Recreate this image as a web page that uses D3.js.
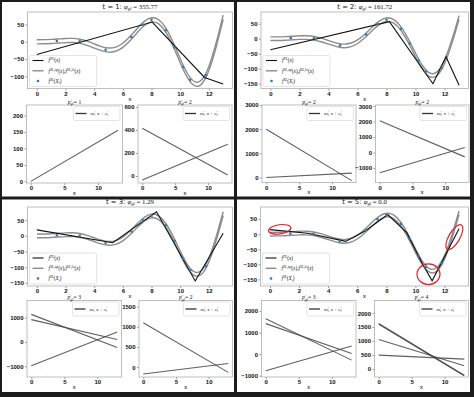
<!DOCTYPE html>
<html>
<head>
<meta charset="utf-8">
<script src="https://cdn.jsdelivr.net/npm/d3@7"></script>
<style>
  body { margin: 0; background: #fff; }
  svg { display: block; }
</style>
</head>
<body>
<div id="chart"></div>
<script>
// ── Data ────────────────────────────────────────────────────────────────────
var tValues = [1, 2, 3, 5];
var phiGl   = ['355.77', '161.72', '1.29', '0.0'];
var pPlus   = [1, 2, 3, 3];
var pMinus  = [2, 2, 2, 4];

// smooth band f^{SL,up}, f^{SL,lo}
var curveX  = [0, 0.5, 1, 1.5, 2, 2.5, 3, 3.5, 4, 4.5, 5, 5.5, 6, 6.5, 7, 7.5, 8, 8.5, 9, 9.5, 10, 10.5, 11, 11.5, 12, 12.5, 13];
var curveUp = [6, 6.1, 6.8, 8.2, 9.6, 9.7, 7.3, 1.7, -6.1, -13.8, -18, -15.3, -4.1, 15.1, 38.2, 58.8, 69.3, 63.7, 39.4, -0.8, -48.4, -91, -115, -109.8, -71.3, -4.4, 77];
var curveLo = [-6, -5.9, -5.2, -3.8, -2.4, -2.3, -4.7, -10.3, -18.1, -25.8, -30, -27.3, -16.1, 3.1, 26.2, 46.8, 57.3, 51.7, 27.4, -12.8, -60.4, -103, -127, -121.8, -83.3, -16.4, 65];

// samples f^{SL}(X_i)
var sampleX = [1.4, 3.0, 4.8, 6.6, 7.4, 8.0, 9.0, 9.6, 10.2, 10.7, 11.8];
var sampleY = [1.9, 1.3, -23, 13.6, 49.2, 63.3, 33.4, -16.1, -72.8, -109.8, -96.9];

// piecewise linear f^{PL} per panel
var plX = [
  [0, 8.05, 11.7, 13],
  [0, 8.2, 11.2, 12.1, 13],
  [0, 5.3, 8.35, 11.05, 13],
  [0, 2.6, 5.2, 6.6, 8.1, 9.4, 10.5, 11.15, 13]
];
var plY = [
  [-37, 57, -103, -122],
  [-37, 57, -150, -60, -155],
  [19, -22, 77, -144, 8],
  [15, 3, -24, 12, 65, 5, -100, -155, 18]
];

// lines m_i x + c_i, value at x = 0 and at x = 13
var lineEnds  = [0, 13];
var plusAt0   = [[0], [2000, 0], [1130, 914, -980], [1647, 1416, -770]];
var plusAt13  = [[155], [-130, 180], [-230, 98, 408], [-277, 32, 383]];
var minusAt0  = [[415, -35], [2050, -1300], [1098, -172], [1598, 1630, 1055, 497]];
var minusAt13 = [[9, 275], [-280, 325], [-130, 90], [-238, -225, 117, 355]];

// axis ticks
var topXTicks = [0, 2, 4, 6, 8, 10, 12];
var subXTicks = [0, 5, 10];
var topYTicks = [[-100, -50, 0, 50], [-150, -100, -50, 0, 50], [-150, -100, -50, 0, 50], [-150, -100, -50, 0, 50]];
var plusYTicks  = [[0, 50, 100, 150, 200], [0, 1000, 2000, 3000], [-1000, 0, 1000], [-1000, 0, 1000, 2000]];
var minusYTicks = [[0, 200, 400, 600], [-1000, 0, 1000, 2000, 3000], [0, 500, 1000, 1500], [0, 500, 1000, 1500, 2000]];

// ── Layout ──────────────────────────────────────────────────────────────────
var W = 474, H = 397;
var X_DOMAIN = [-0.65, 13.65];
var topYDomain   = [[-135, 86], [-166, 89], [-160, 92], [-172, 90]];
var plusYDomain  = [[-5, 232], [-208, 3000], [-1440, 1700], [-1060, 2490]];
var minusYDomain = [[-61, 617], [-1935, 3070], [-245, 1650], [-285, 2450]];

// [x0, x1, y0, y1]
var geo = [
  { top: [27.5, 232.5, 12, 88.5],  subL: [26.5, 122.5, 105, 183], subR: [138, 232, 105, 183] },
  { top: [261, 468.5, 12, 88.5],   subL: [262, 356, 105, 182.5],  subR: [375.5, 469, 105, 182.5] },
  { top: [27.5, 232.5, 207, 286],  subL: [27, 121.5, 300.5, 377],   subR: [139, 232.5, 300.5, 377] },
  { top: [260.5, 468.5, 207, 286], subL: [261.5, 356, 300.5, 377],  subR: [374.5, 468.5, 300.5, 377] }
];

var FRAME = '#b8b8b8';
var TICK_FONT = 'Liberation Sans, Arial, sans-serif';
var MATH_FONT = 'Liberation Serif, DejaVu Serif, serif';

var svg = d3.select('#chart').append('svg')
  .attr('width', W).attr('height', H)
  .attr('viewBox', '0 0 ' + W + ' ' + H);

svg.append('rect').attr('width', W).attr('height', H).attr('fill', '#1c1c1c');

var quads = [[2, 2, 232, 194.5], [237, 2, 233, 194.5], [2, 199.5, 232, 192.5], [237, 199.5, 233, 192.5]];
svg.selectAll('rect.quad').data(quads).enter().append('rect')
  .attr('class', 'quad')
  .attr('x', function(d) { return d[0]; })
  .attr('y', function(d) { return d[1]; })
  .attr('width', function(d) { return d[2]; })
  .attr('height', function(d) { return d[3]; })
  .attr('fill', '#fff');

var defs = svg.append('defs');

// text with simple sub/superscripts
function rich(g, x, y, parts, size, anchor) {
  var t = g.append('text')
    .attr('x', x).attr('y', y)
    .attr('font-size', size)
    .attr('text-anchor', anchor || 'start')
    .attr('fill', '#111');
  var shift = 0;
  parts.forEach(function(p) {
    var s = p.s || 0;
    var fs = s ? size * 0.7 : size;
    var target = s === 1 ? -size * 0.38 : (s === -1 ? size * 0.25 : 0);
    var ts = t.append('tspan')
      .text(p.t)
      .attr('font-size', fs)
      .attr('dy', target - shift)
      .attr('font-family', p.f || MATH_FONT)
      .attr('font-style', p.i ? 'italic' : 'normal');
    if (p.dx) ts.attr('dx', p.dx);
    shift = target;
  });
  return t;
}

var fmt = d3.format('d');

function makeAxes(g, box, yDomain, xTicks, yTicks, clipId) {
  var x = d3.scaleLinear().domain(X_DOMAIN).range([box[0], box[1]]);
  var y = d3.scaleLinear().domain(yDomain).range([box[3], box[2]]);

  defs.append('clipPath').attr('id', clipId).append('rect')
    .attr('x', box[0]).attr('y', box[2])
    .attr('width', box[1] - box[0]).attr('height', box[3] - box[2]);

  var xa = g.append('g')
    .attr('transform', 'translate(0,' + box[3] + ')')
    .call(d3.axisBottom(x).tickValues(xTicks).tickFormat(fmt).tickSize(2).tickPadding(1));
  var ya = g.append('g')
    .attr('transform', 'translate(' + box[0] + ',0)')
    .call(d3.axisLeft(y).tickValues(yTicks).tickFormat(fmt).tickSize(2).tickPadding(1.5));
  [xa, ya].forEach(function(a) {
    a.select('.domain').remove();
    a.selectAll('.tick line').attr('stroke', '#555').attr('stroke-width', 0.6);
    a.selectAll('.tick text')
      .attr('fill', '#111')
      .attr('font-family', TICK_FONT)
      .attr('font-weight', 'bold')
      .attr('font-size', 6);
  });

  g.append('rect')
    .attr('x', box[0]).attr('y', box[2])
    .attr('width', box[1] - box[0]).attr('height', box[3] - box[2])
    .attr('fill', 'none').attr('stroke', FRAME).attr('stroke-width', 0.9);

  var plot = g.append('g').attr('clip-path', 'url(#' + clipId + ')');
  return { x: x, y: y, plot: plot };
}

function drawPanel(i) {
  var G = geo[i];
  var g = svg.append('g').attr('class', 'panel');

  // ── top axes
  var A = makeAxes(g, G.top, topYDomain[i], topXTicks, topYTicks[i], 'clip-top-' + i);
  var line = d3.line()
    .x(function(d) { return A.x(d[0]); })
    .y(function(d) { return A.y(d[1]); });

  [curveUp, curveLo].forEach(function(ys) {
    A.plot.append('path')
      .datum(curveX.map(function(v, k) { return [v, ys[k]]; }))
      .attr('d', line.curve(d3.curveNatural))
      .attr('fill', 'none')
      .attr('stroke', '#8c8c8c')
      .attr('stroke-width', 1.4);
  });

  A.plot.append('path')
    .datum(plX[i].map(function(v, k) { return [v, plY[i][k]]; }))
    .attr('d', line.curve(d3.curveLinear))
    .attr('fill', 'none')
    .attr('stroke', '#111')
    .attr('stroke-width', 1.1);

  A.plot.selectAll('circle.sample')
    .data(sampleX.map(function(v, k) { return [v, sampleY[k]]; }))
    .enter().append('circle')
    .attr('class', 'sample')
    .attr('cx', function(d) { return A.x(d[0]); })
    .attr('cy', function(d) { return A.y(d[1]); })
    .attr('r', 1.3)
    .attr('fill', '#2a7ab8');

  // title
  var cx = (G.top[0] + G.top[1]) / 2;
  rich(g, cx, G.top[2] - 3.5, [
    { t: 't = ' + tValues[i] + ': ', f: 'DejaVu Sans, sans-serif' },
    { t: 'φ', i: 1 }, { t: 'gl', i: 1, s: -1 }, { t: ' = ' + phiGl[i] }
  ], 6.8, 'middle');

  g.append('text')
    .attr('x', cx).attr('y', G.top[3] + 12)
    .attr('text-anchor', 'middle')
    .attr('font-family', 'DejaVu Sans, sans-serif')
    .attr('font-size', 5.6)
    .attr('fill', '#111')
    .text('x');

  // legend
  var lx = G.top[0] + 2, ly = G.top[3] - 33;
  g.append('rect')
    .attr('x', lx).attr('y', ly).attr('width', 67).attr('height', 31)
    .attr('rx', 1.5)
    .attr('fill', '#fff').attr('fill-opacity', 0.85)
    .attr('stroke', '#d4d4d4').attr('stroke-width', 0.6);
  var rows = [ly + 5, ly + 15.3, ly + 25.5];
  g.append('line').attr('x1', lx + 3).attr('x2', lx + 14).attr('y1', rows[0]).attr('y2', rows[0])
    .attr('stroke', '#111').attr('stroke-width', 1.1);
  g.append('line').attr('x1', lx + 3).attr('x2', lx + 14).attr('y1', rows[1]).attr('y2', rows[1])
    .attr('stroke', '#8c8c8c').attr('stroke-width', 1.4);
  g.append('circle').attr('cx', lx + 8.5).attr('cy', rows[2]).attr('r', 1.3).attr('fill', '#2a7ab8');
  rich(g, lx + 19, rows[0] + 1.7, [
    { t: 'f', i: 1 }, { t: 'PL', i: 1, s: 1 }, { t: '(' }, { t: 'x', i: 1 }, { t: ')' }
  ], 5.2);
  rich(g, lx + 19, rows[1] + 1.7, [
    { t: 'f', i: 1 }, { t: 'SL,up', i: 1, s: 1 }, { t: '(' }, { t: 'x', i: 1 }, { t: '),' },
    { t: 'f', i: 1 }, { t: 'SL,lo', i: 1, s: 1 }, { t: '(' }, { t: 'x', i: 1 }, { t: ')' }
  ], 5.2);
  rich(g, lx + 19, rows[2] + 1.7, [
    { t: 'f', i: 1 }, { t: 'SL', i: 1, s: 1 }, { t: '(' }, { t: 'X', i: 1 }, { t: 'i', i: 1, s: -1 }, { t: ')' }
  ], 5.2);

  // ── bottom sub axes
  var subs = [
    { box: G.subL, dom: plusYDomain[i],  ticks: plusYTicks[i],  a0: plusAt0[i],  a13: plusAt13[i],  sign: '+', p: pPlus[i] },
    { box: G.subR, dom: minusYDomain[i], ticks: minusYTicks[i], a0: minusAt0[i], a13: minusAt13[i], sign: '−', p: pMinus[i] }
  ];
  subs.forEach(function(S, j) {
    var B = makeAxes(g, S.box, S.dom, subXTicks, S.ticks, 'clip-sub-' + i + '-' + j);
    var sl = d3.line()
      .x(function(d) { return B.x(d[0]); })
      .y(function(d) { return B.y(d[1]); });
    S.a0.forEach(function(v, k) {
      B.plot.append('path')
        .datum([[lineEnds[0], v], [lineEnds[1], S.a13[k]]])
        .attr('d', sl)
        .attr('fill', 'none')
        .attr('stroke', '#444')
        .attr('stroke-opacity', 0.85)
        .attr('stroke-width', 1.1);
    });

    var scx = (S.box[0] + S.box[1]) / 2;
    rich(g, scx, S.box[2] - 1.2, [
      { t: 'p', i: 1 }, { t: 'gl', i: 1, s: -1 }, { t: S.sign, s: 1, dx: -3.4 }, { t: ' = ' + S.p }
    ], 5.6, 'middle');
    g.append('text')
      .attr('x', scx).attr('y', S.box[3] + 11.5)
      .attr('text-anchor', 'middle')
      .attr('font-family', 'DejaVu Sans, sans-serif')
      .attr('font-size', 5.6)
      .attr('fill', '#111')
      .text('x');

    // legend
    var bx = S.box[1] - 49, by = S.box[2] + 1.5;
    g.append('rect')
      .attr('x', bx).attr('y', by).attr('width', 46.5).attr('height', 14)
      .attr('rx', 1.5)
      .attr('fill', '#fff').attr('fill-opacity', 0.85)
      .attr('stroke', '#d4d4d4').attr('stroke-width', 0.6);
    g.append('line').attr('x1', bx + 2).attr('x2', bx + 13).attr('y1', by + 7).attr('y2', by + 7)
      .attr('stroke', '#333').attr('stroke-width', 1.3);
    rich(g, bx + 17, by + 8.7, [
      { t: 'm', i: 1 }, { t: 'i', i: 1, s: -1 }, { t: S.sign, s: 1, dx: -1.2 }, { t: ' ' }, { t: 'x', i: 1 },
      { t: ' + ' }, { t: 'c', i: 1 }, { t: 'i', i: 1, s: -1 }, { t: S.sign, s: 1, dx: -1.2 }
    ], 5);
  });

  return g;
}

for (var p = 0; p < 4; p++) drawPanel(p);

// red ellipses marking disagreements in the last panel
var marks = [
  { x: 0.67, y: 16, rx: 11.3, ry: 4.6, rot: -8 },
  { x: 10.9, y: -133, rx: 11.5, ry: 10.3, rot: 0 },
  { x: 12.68, y: -10, rx: 14, ry: 5.5, rot: -60 }
];
var mx = d3.scaleLinear().domain(X_DOMAIN).range([geo[3].top[0], geo[3].top[1]]);
var my = d3.scaleLinear().domain(topYDomain[3]).range([geo[3].top[3], geo[3].top[2]]);
svg.selectAll('ellipse.mark').data(marks).enter().append('ellipse')
  .attr('class', 'mark')
  .attr('transform', function(d) { return 'translate(' + mx(d.x) + ',' + my(d.y) + ') rotate(' + d.rot + ')'; })
  .attr('rx', function(d) { return d.rx; })
  .attr('ry', function(d) { return d.ry; })
  .attr('fill', 'none')
  .attr('stroke', '#e4202a')
  .attr('stroke-width', 1.2);
</script>
</body>
</html>
